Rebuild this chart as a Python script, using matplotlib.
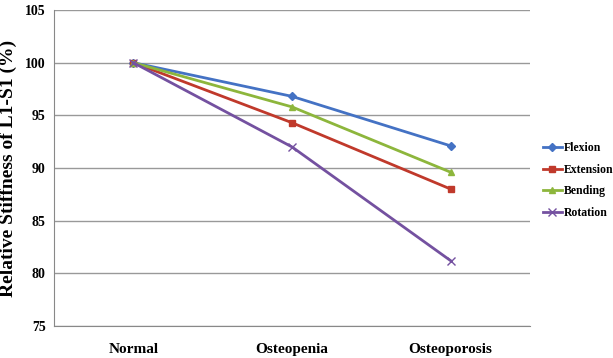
import matplotlib.pyplot as plt

# stiffness relative to the normal spine, in percent
groups = ['Normal', 'Osteopenia', 'Osteoporosis']
flexion = [100, 96.8, 92.1]
extension = [100, 94.3, 88.0]
bending = [100, 95.8, 89.6]
rotation = [100, 92.0, 81.2]

plt.rcParams['font.family'] = 'Liberation Serif'
plt.rcParams['font.weight'] = 'bold'

fig = plt.figure(figsize=(6.13, 3.58), dpi=100)
ax = fig.add_axes([54/613, 32/358, 476/613, 316/358])

x = range(len(groups))
ax.plot(x, flexion, color='#4472C4', marker='D', markersize=4, lw=2, label='Flexion')
ax.plot(x, extension, color='#C0392B', marker='s', markersize=5, lw=2, label='Extension')
ax.plot(x, bending, color='#8DB63C', marker='^', markersize=5, lw=2, label='Bending')
ax.plot(x, rotation, color='#7451A0', marker='x', markersize=6, lw=2, label='Rotation')

ax.set_xlim(-0.5, 2.5)
ax.set_ylim(75, 105)
ax.set_yticks(range(75, 106, 5))
ax.set_xticks(list(x))
ax.set_xticklabels(groups, fontsize=11, fontweight='bold')
ax.tick_params(axis='y', labelsize=10, length=0, pad=6)
ax.tick_params(axis='x', length=0, pad=12)
ax.yaxis.grid(True, color='#999999', lw=1)
ax.set_axisbelow(True)
for s in ['top', 'right']:
    ax.spines[s].set_visible(False)
ax.spines['left'].set_color('#888888')
ax.spines['bottom'].set_color('#888888')

ax.set_ylabel('Relative Stiffness of L1-S1 (%)', fontsize=14, fontweight='bold', labelpad=6)

ax.legend(loc='center left', bbox_to_anchor=(1.022, 0.46), frameon=False,
          prop={'size': 8.5, 'weight': 'bold'}, handlelength=1.6, handletextpad=0.15,
          labelspacing=0.8, borderaxespad=0.0, borderpad=0.2)

fig.savefig('out.png', dpi=100)
